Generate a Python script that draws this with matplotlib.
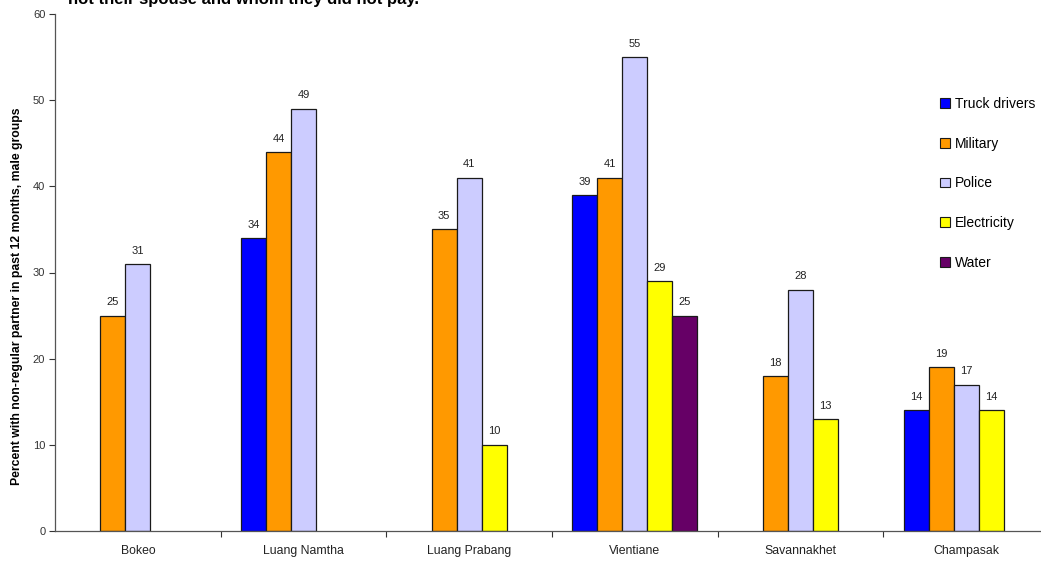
import numpy as np
import matplotlib.pyplot as plt
from matplotlib.patches import Patch

plt.rcParams['font.family'] = ['Liberation Sans', 'DejaVu Sans']

provinces = ['Bokeo', 'Luang Namtha', 'Luang Prabang', 'Vientiane', 'Savannakhet', 'Champasak']
groups = ['Truck drivers', 'Military', 'Police', 'Electricity', 'Water']
colors = ['#0000FF', '#FF9900', '#CCCCFF', '#FFFF00', '#660066']

# nan = group not surveyed in that province
truck = [np.nan, 34, np.nan, 39, np.nan, 14]
military = [25, 44, 35, 41, 18, 19]
police = [31, 49, 41, 55, 28, 17]
electricity = [np.nan, np.nan, 10, 29, 13, 14]
water = [np.nan, np.nan, np.nan, 25, np.nan, np.nan]
series = [truck, military, police, electricity, water]

W, H = 1041, 561
fig = plt.figure(figsize=(W / 100, H / 100), dpi=100)
# axes runs a little past the right edge, like the cropped original
ax = fig.add_axes([55 / W, 30 / H, (1049 - 55) / W, (531 - 14) / H])

x = np.arange(len(provinces))
bw = 0.151
for i, (vals, c) in enumerate(zip(series, colors)):
    pos = x + (i - 2) * bw
    vals = np.array(vals, dtype=float)
    ok = ~np.isnan(vals)
    bars = ax.bar(pos[ok], vals[ok], width=bw, color=c, edgecolor='#1a1a1a',
                  linewidth=0.9, zorder=2)
    for b, v in zip(bars, vals[ok]):
        ax.annotate(f'{v:.0f}', (b.get_x() + b.get_width() / 2, v),
                    xytext=(0, 6), textcoords='offset points',
                    ha='center', va='bottom', fontsize=8, color='#222222')

ax.set_xlim(-0.5, len(provinces) - 0.5)
ax.set_ylim(0, 60)
ax.set_yticks(range(0, 61, 10))
ax.tick_params(axis='y', labelsize=8, length=4, width=0.8, colors='#333333', pad=3)
ax.set_xticks(x[:-1] + 0.5)
ax.set_xticklabels([])
ax.tick_params(axis='x', which='major', length=4, width=0.8, color='#333333')
ax.set_xticks(x, minor=True)
ax.set_xticklabels(provinces, minor=True, fontsize=8.8, color='#222222')
ax.tick_params(axis='x', which='minor', length=0, pad=10)

for s in ['top', 'right']:
    ax.spines[s].set_visible(False)
for s in ['left', 'bottom']:
    ax.spines[s].set_color('#555555')
    ax.spines[s].set_linewidth(0.9)

ax.set_ylabel('Percent with non-regular partner in past 12 months, male groups',
              fontsize=8.8, fontweight='bold')
ax.yaxis.set_label_coords(-0.032, 0.455)

fig.text(68 / W, 1 - 4 / H, 'not their spouse and whom they did not pay.',
         fontsize=12, fontweight='bold', ha='left', va='baseline')

handles = [Patch(facecolor=c, edgecolor='#1a1a1a', linewidth=0.8) for c in colors]
fig.legend(handles, groups, loc='upper left', bbox_to_anchor=(940 / W, 1 - 97 / H),
           frameon=False, fontsize=10, labelspacing=1.85, handlelength=0.7,
           handleheight=0.7, handletextpad=0.35, borderpad=0, borderaxespad=0)

fig.savefig('out.png', dpi=100)
